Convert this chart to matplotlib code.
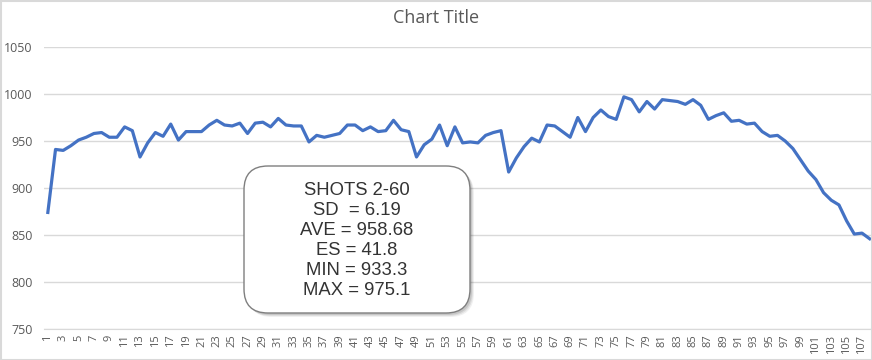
import matplotlib.pyplot as plt
import numpy as np
from matplotlib.patches import FancyBboxPatch

# shot velocities, shots 1..108
shots = np.arange(1, 109)
velocity = [874, 941, 940, 945, 951, 954, 958, 959, 954, 954,
            965, 961, 933, 948, 959, 955, 968, 951, 960, 960,
            960, 967, 972, 967, 966, 969, 958, 969, 970, 965,
            974, 967, 966, 966, 949, 956, 954, 956, 958, 967,
            967, 961, 965, 960, 961, 972, 962, 960, 933, 946,
            952, 967, 945, 965, 948, 949, 948, 956, 959, 961,
            917, 932, 944, 953, 949, 967, 966, 960, 954, 975,
            960, 975, 983, 976, 973, 997, 994, 981, 992, 984,
            994, 993, 992, 989, 994, 988, 973, 977, 980, 971,
            972, 968, 969, 960, 955, 956, 950, 942, 930, 918,
            909, 895, 887, 882, 865, 851, 852, 846]

stats_lines = ['SHOTS 2-60', 'SD  = 6.19', 'AVE = 958.68', 'ES = 41.8',
               'MIN = 933.3', 'MAX = 975.1']

W, H = 872, 360
fig = plt.figure(figsize=(W/100, H/100), dpi=100)
left, right, top, bottom = 44, 873.5, 47, 329
ax = fig.add_axes([left/W, 1 - bottom/H, (right-left)/W, (bottom-top)/H])

ax.plot(shots, velocity, color='#4472C4', lw=2.3, solid_joinstyle='round')

ax.set_xlim(0.5, 108.5)
ax.set_ylim(750, 1050)
ax.set_yticks(np.arange(750, 1051, 50))
ax.set_xticks(shots[::2])
ax.set_xticklabels([str(s) for s in shots[::2]], rotation=90)
ax.grid(axis='y', color='#d9d9d9', lw=1)
ax.set_axisbelow(True)
for s in ['top', 'right', 'left']:
    ax.spines[s].set_visible(False)
ax.spines['bottom'].set_color('#d9d9d9')
ax.tick_params(axis='both', length=0, labelsize=8, colors='#595959', pad=4)
ax.tick_params(axis='y', labelsize=9, pad=8)
for lab in ax.get_xticklabels() + ax.get_yticklabels():
    lab.set_family('Open Sans')

fig.text(0.5, 1 - 18/H, 'Chart Title', ha='center', va='center',
         fontsize=13, color='#595959', family='Open Sans')

# overlay in pixel coordinates for the stats box
ov = fig.add_axes([0, 0, 1, 1], zorder=5)
ov.set_xlim(0, W)
ov.set_ylim(H, 0)
ov.axis('off')
bx0, by0, bx1, by1 = 244, 166, 470, 313
for off, a in [(4, 0.06), (3, 0.08), (2, 0.1)]:
    ov.add_patch(FancyBboxPatch((bx0 + off, by0 + off), bx1 - bx0, by1 - by0,
                                boxstyle='round,pad=0,rounding_size=24',
                                fc='black', ec='none', alpha=a))
ov.add_patch(FancyBboxPatch((bx0, by0), bx1 - bx0, by1 - by0,
                            boxstyle='round,pad=0,rounding_size=24',
                            fc='white', ec='#7f7f7f', lw=1))
ov.text((bx0 + bx1)/2, (by0 + by1)/2 + 1, '\n'.join(stats_lines),
        ha='center', va='center', fontsize=13.3, color='#333333',
        family='Liberation Sans', linespacing=1.22)

# chart border
ov.add_patch(plt.Rectangle((0.5, 0.5), W - 1, H - 1, fill=False,
                           ec='#d9d9d9', lw=1.5))

fig.savefig('out.png', dpi=100)
